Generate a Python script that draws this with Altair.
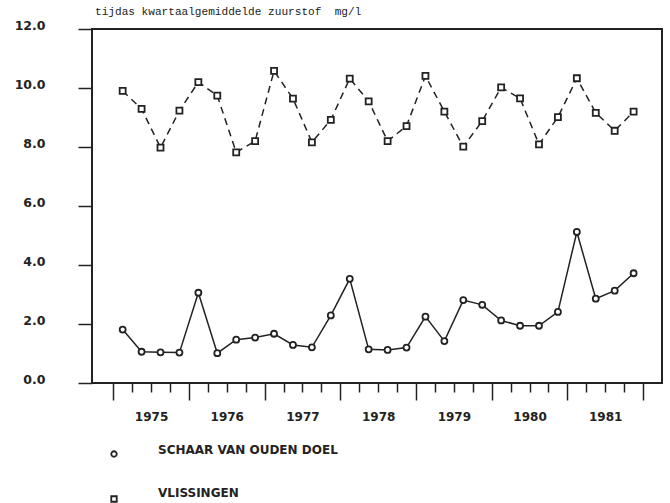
import altair as alt
import pandas as pd

# Quarterly mean dissolved oxygen (mg/l), two stations, 1975-1981
jaren = [1975, 1976, 1977, 1978, 1979, 1980, 1981]
kwartalen = [1, 2, 3, 4]
stations = ["SCHAAR VAN OUDEN DOEL", "VLISSINGEN"]

schaar = [1.81, 1.06, 1.04, 1.03, 3.06, 1.01, 1.47, 1.54,
          1.67, 1.29, 1.21, 2.29, 3.53, 1.14, 1.12, 1.20,
          2.25, 1.42, 2.81, 2.65, 2.12, 1.94, 1.94, 2.41,
          5.12, 2.86, 3.13, 3.72]
vlissingen = [9.90, 9.29, 7.98, 9.23, 10.20, 9.74, 7.82, 8.20,
              10.58, 9.64, 8.16, 8.92, 10.32, 9.55, 8.20, 8.71,
              10.41, 9.20, 8.01, 8.88, 10.02, 9.65, 8.09, 9.01,
              10.33, 9.16, 8.55, 9.20]

y_ticks = [0, 2, 4, 6, 8, 10, 12]
# quarter boundaries: long ticks at year starts, short ones in between
x_ticks = [1975 + i / 4 for i in range(29)]

rows = []
for station, reeks in zip(stations, [schaar, vlissingen]):
    i = 0
    for jaar in jaren:
        for kw in kwartalen:
            rows.append({"station": station, "jaar": jaar, "kwartaal": kw,
                         "zuurstof": reeks[i]})
            i += 1
df = pd.DataFrame(rows)
legenda = pd.DataFrame({"station": stations})

INK = "#222222"
FONT = "DejaVu Sans"

vormen = alt.Scale(domain=stations, range=["circle", "square"])

x_enc = alt.X(
    "t:Q",
    scale=alt.Scale(domain=[1974.72, 1982.25], nice=False, zero=False),
    axis=alt.Axis(
        values=x_ticks,
        tickSize={"condition": {"test": "datum.value % 1 === 0", "value": 17}, "value": 9},
        tickWidth=1.5,
        tickColor=INK,
        labelExpr="datum.value % 1 === 0.5 ? toString(floor(datum.value)) : ''",
        labelFont=FONT,
        labelFontSize=12,
        labelFontWeight="bold",
        labelColor=INK,
        labelPadding=19,
        labelFlush=False,
        labelOverlap=False,
        domain=False,
        grid=False,
        title=None,
    ),
)
y_enc = alt.Y(
    "zuurstof:Q",
    scale=alt.Scale(domain=[0, 12], nice=False),
    axis=alt.Axis(
        values=y_ticks,
        format=".1f",
        tickSize=14,
        tickWidth=1.5,
        tickColor=INK,
        labelFont=FONT,
        labelFontSize=12.5,
        labelFontWeight="bold",
        labelColor=INK,
        labelPadding=33,
        labelOffset=-4,
        domain=False,
        grid=False,
        title=None,
    ),
)

base = alt.Chart(df).transform_calculate(
    t="datum.jaar + (datum.kwartaal - 0.5) / 4"
)

lijn_schaar = base.transform_filter(
    alt.datum.station == stations[0]
).mark_line(strokeWidth=1.5, color=INK).encode(x=x_enc, y=y_enc)

lijn_vlissingen = base.transform_filter(
    alt.datum.station == stations[1]
).mark_line(strokeWidth=1.5, color=INK, strokeDash=[7, 5]).encode(x=x_enc, y=y_enc)

punten = base.mark_point(
    filled=False, fill="white", stroke=INK, strokeWidth=1.8, size=36, opacity=1
).encode(
    x=x_enc,
    y=y_enc,
    shape=alt.Shape("station:N", scale=vormen, legend=None),
)

grafiek = alt.layer(lijn_schaar, lijn_vlissingen, punten)

# key below the plot: symbol column and label column
leg_symbolen = alt.Chart(legenda).mark_point(
    filled=False, fill="white", stroke=INK, strokeWidth=1.8, size=30, opacity=1
).encode(
    x=alt.value(22),
    y=alt.Y("station:N", axis=None,
            scale=alt.Scale(type="point", domain=stations, range=[425, 470], padding=0)),
    shape=alt.Shape("station:N", scale=vormen, legend=None),
)

leg_tekst = alt.Chart(legenda).mark_text(
    align="left", baseline="middle", font=FONT, fontSize=12,
    fontWeight="bold", color=INK
).encode(
    x=alt.value(66),
    y=alt.Y("station:N", axis=None,
            scale=alt.Scale(type="point", domain=stations, range=[421, 464], padding=0)),
    text="station:N",
)

chart = (
    alt.layer(grafiek, leg_symbolen, leg_tekst)
    .resolve_scale(y="independent")
    .properties(
        width=570,
        height=354,
        padding={"left": 92, "top": 29, "right": 8, "bottom": 120},
        autosize=alt.AutoSizeParams(type="none"),
        background="white",
        title=alt.TitleParams(
            "tijdas kwartaalgemiddelde zuurstof\u00a0\u00a0mg/l",
            anchor="start",
            frame="group",
            font="Liberation Mono",
            fontSize=11.1,
            fontWeight="normal",
            color=INK,
            offset=2,
            dx=3,
        ),
    )
    .configure_view(stroke=INK, strokeWidth=2)
)

chart.save("out.html", embed_options={"renderer": "svg", "actions": False})
